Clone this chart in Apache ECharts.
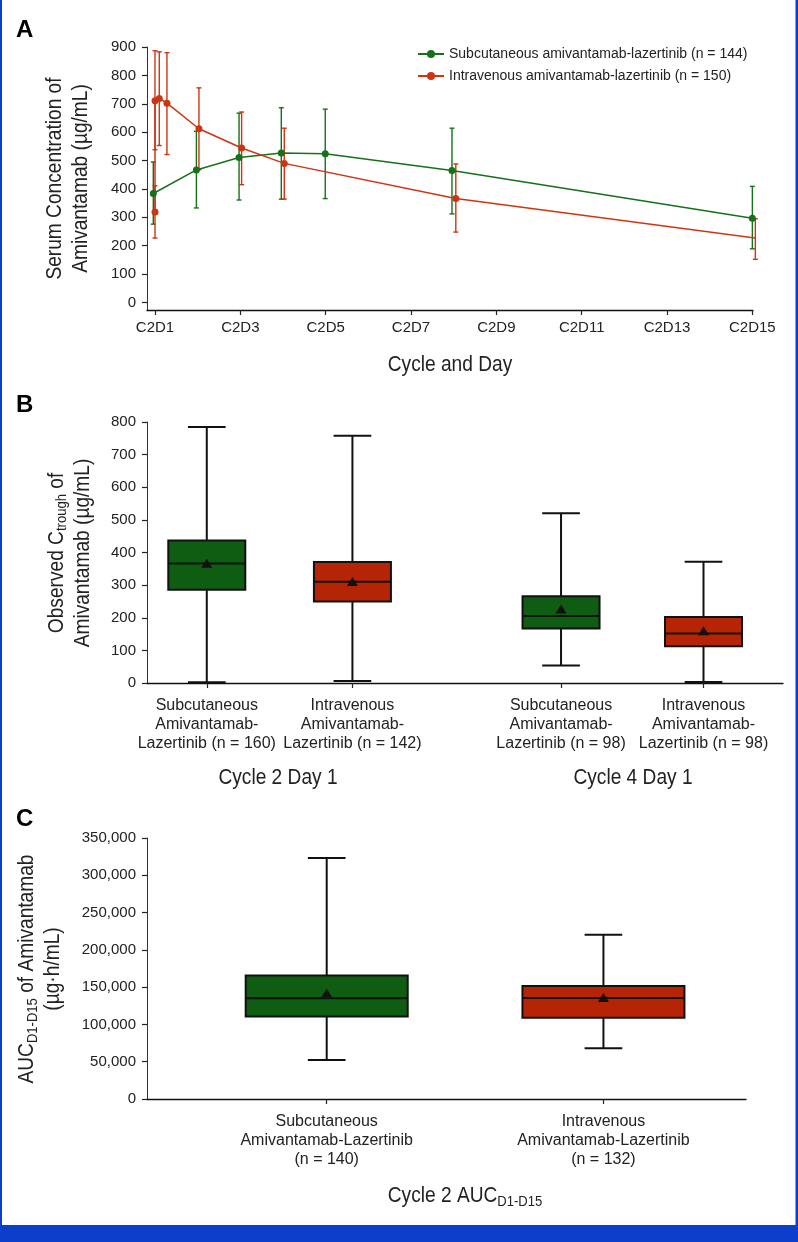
<!DOCTYPE html>
<html><head><meta charset="utf-8">
<script src="https://cdn.jsdelivr.net/npm/echarts@6/dist/echarts.min.js"></script>
<style>html,body{margin:0;padding:0;background:#fff}#c{width:798px;height:1242px}</style>
</head><body><div id="c"></div>
<script>
// ---------- Panel A data ----------
const dayTicks = [1, 3, 5, 7, 9, 11, 13, 15];
const concTicks = [0, 100, 200, 300, 400, 500, 600, 700, 800, 900];
const scName = 'Subcutaneous amivantamab-lazertinib (n = 144)';
const ivName = 'Intravenous amivantamab-lazertinib (n = 150)';
const scDays = [0.96, 1.97, 2.97, 3.96, 4.99, 7.96, 15.0];
const scMean = [384, 467, 511, 527, 524, 465, 297];
const scLow  = [276, 333, 361, 364, 366, 312, 189];
const scHigh = [495, 603, 667, 686, 681, 614, 409];
const ivDays = [1.0, 1.0, 1.1, 1.28, 2.03, 3.03, 4.03, 8.05, 15.07];
const ivMean = [319, 711, 719, 702, 612, 544, 490, 366, 227];
const ivLow  = [227, 538, 553, 521, 468, 415, 364, 248, 152];
const ivHigh = [411, 887, 883, 880, 756, 671, 614, 488, 295];

// ---------- Panel B data ----------
const troughGroups = ['Cycle 2 Day 1', 'Cycle 4 Day 1'];
const troughLabels = [
  'Subcutaneous\nAmivantamab-\nLazertinib (n = 160)',
  'Intravenous\nAmivantamab-\nLazertinib (n = 142)',
  'Subcutaneous\nAmivantamab-\nLazertinib (n = 98)',
  'Intravenous\nAmivantamab-\nLazertinib (n = 98)'
];
const troughArm    = [0, 1, 0, 1]; // 0 = subcutaneous, 1 = intravenous
const troughMin    = [2, 6, 54, 3];
const troughQ1     = [286, 250, 167, 113];
const troughMedian = [366, 310, 205, 152];
const troughQ3     = [437, 371, 266, 202];
const troughMax    = [785, 758, 520, 372];
const troughMean   = [367, 311, 227, 160];

// ---------- Panel C data ----------
const aucLabels = [
  'Subcutaneous\nAmivantamab-Lazertinib\n(n = 140)',
  'Intravenous\nAmivantamab-Lazertinib\n(n = 132)'
];
const aucArm    = [0, 1];
const aucMin    = [52400, 68000];
const aucQ1     = [110500, 108800];
const aucMedian = [135200, 135600];
const aucQ3     = [165500, 151700];
const aucMax    = [323200, 220200];
const aucMean   = [142000, 136000];

// ---------- Layout / style ----------
const GREEN = '#16711a', RED = '#cc3513';
const BOX_FILL = ['#0f5c13', '#b52404'];
const FONT = "'Liberation Sans', Arial, sans-serif";
const TXT = '#222';
const COND = 0.87;                        // horizontal squeeze for condensed titles
const slotsB = [9.4, 32.3, 65.1, 87.5];   // box slots on 0-100 layout axis
const slotsC = [30.0, 76.2];

function labelFor(slots, labels) {
  return function (v) {
    for (let i = 0; i < slots.length; i++) if (Math.abs(slots[i] - v) < 1e-6) return labels[i];
    return '';
  };
}

function boxRender(boxW, capW) {
  return function (params, api) {
    const x = api.value(0);
    const pMin = api.coord([x, api.value(1)]);
    const pQ1 = api.coord([x, api.value(2)]);
    const pMed = api.coord([x, api.value(3)]);
    const pQ3 = api.coord([x, api.value(4)]);
    const pMax = api.coord([x, api.value(5)]);
    const pMean = api.coord([x, api.value(6)]);
    const cx = pMin[0];
    const fill = BOX_FILL[api.value(7)];
    const ls = { stroke: '#111', lineWidth: 2 };
    const m = pMean[1];
    return {
      type: 'group', children: [
        { type: 'line', shape: { x1: cx, y1: pMax[1], x2: cx, y2: pMin[1] }, style: ls },
        { type: 'line', shape: { x1: cx - capW / 2, y1: pMax[1], x2: cx + capW / 2, y2: pMax[1] }, style: ls },
        { type: 'line', shape: { x1: cx - capW / 2, y1: pMin[1], x2: cx + capW / 2, y2: pMin[1] }, style: ls },
        { type: 'rect', shape: { x: cx - boxW / 2, y: pQ3[1], width: boxW, height: pQ1[1] - pQ3[1] }, style: { fill: fill, stroke: '#111', lineWidth: 2 } },
        { type: 'line', shape: { x1: cx - boxW / 2, y1: pMed[1], x2: cx + boxW / 2, y2: pMed[1] }, style: ls },
        { type: 'polygon', shape: { points: [[cx, m - 4.5], [cx - 5.5, m + 4.5], [cx + 5.5, m + 4.5]] }, style: { fill: '#111' } }
      ]
    };
  };
}

function errRender(color) {
  return function (params, api) {
    const x = api.value(0);
    const lo = api.coord([x, api.value(1)]);
    const hi = api.coord([x, api.value(2)]);
    const cx = lo[0];
    const st = { stroke: color, lineWidth: 1.4 };
    return {
      type: 'group', children: [
        { type: 'line', shape: { x1: cx, y1: hi[1], x2: cx, y2: lo[1] }, style: st },
        { type: 'line', shape: { x1: cx - 2.5, y1: hi[1], x2: cx + 2.5, y2: hi[1] }, style: st },
        { type: 'line', shape: { x1: cx - 2.5, y1: lo[1], x2: cx + 2.5, y2: lo[1] }, style: st }
      ]
    };
  };
}

const scLine = scDays.map((d, i) => [d, scMean[i]]);
const ivLine = ivDays.map((d, i) => [d, ivMean[i]]);
const scErr = scDays.map((d, i) => [d, scLow[i], scHigh[i]]);
const ivErr = ivDays.map((d, i) => [d, ivLow[i], ivHigh[i]]);
const troughData = troughMin.map((v, i) => [slotsB[i], v, troughQ1[i], troughMedian[i], troughQ3[i], troughMax[i], troughMean[i], troughArm[i]]);
const aucData = aucMin.map((v, i) => [slotsC[i], v, aucQ1[i], aucMedian[i], aucQ3[i], aucMax[i], aucMean[i], aucArm[i]]);

const titleRich = {
  a: { fontFamily: FONT, fontSize: 22, lineHeight: 26, fill: TXT, color: TXT },
  s: { fontFamily: FONT, fontSize: 15, lineHeight: 10, verticalAlign: 'bottom', fill: TXT, color: TXT }
};
function title(text, cx, cy, rot) {
  return {
    type: 'text', x: cx, y: cy, rotation: rot || 0, scaleX: COND,
    style: { text: text, rich: titleRich, align: 'center', verticalAlign: 'middle', fill: TXT }
  };
}

const axisLineY = { show: true, lineStyle: { color: '#333', width: 1 } };
const axisLineX = { show: true, onZero: false, lineStyle: { color: '#111', width: 1.3 } };
const tickStyle = { show: true, length: 5, lineStyle: { color: '#222', width: 1.2 } };
const tickLabel = { color: TXT, fontSize: 15, fontFamily: FONT };

const option = {
  animation: false,
  backgroundColor: '#fff',
  textStyle: { fontFamily: FONT },
  legend: {
    data: [scName, ivName], orient: 'vertical', left: 417, top: 47, padding: 0,
    itemWidth: 26, itemHeight: 10, itemGap: 8,
    textStyle: { fontSize: 14, color: TXT, fontFamily: FONT }
  },
  grid: [
    { left: 147, top: 47, width: 606, height: 263, outerBoundsMode: 'none' },
    { left: 147, top: 422, width: 636, height: 261, outerBoundsMode: 'none' },
    { left: 147, top: 838, width: 599, height: 261, outerBoundsMode: 'none' }
  ],
  xAxis: [
    {
      gridIndex: 0, type: 'value', min: 0.8125, max: 15.015,
      axisLine: axisLineX, splitLine: { show: false },
      axisTick: Object.assign({}, tickStyle, { customValues: dayTicks }),
      axisLabel: Object.assign({}, tickLabel, { customValues: dayTicks, margin: 10, formatter: v => 'C2D' + v })
    },
    {
      gridIndex: 1, type: 'value', min: 0, max: 100,
      axisLine: axisLineX, splitLine: { show: false },
      axisTick: Object.assign({}, tickStyle, { customValues: slotsB }),
      axisLabel: Object.assign({}, tickLabel, { customValues: slotsB, margin: 13, fontSize: 16, lineHeight: 19, formatter: labelFor(slotsB, troughLabels) })
    },
    {
      gridIndex: 2, type: 'value', min: 0, max: 100,
      axisLine: axisLineX, splitLine: { show: false },
      axisTick: Object.assign({}, tickStyle, { customValues: slotsC }),
      axisLabel: Object.assign({}, tickLabel, { customValues: slotsC, margin: 13, fontSize: 16, lineHeight: 19, formatter: labelFor(slotsC, aucLabels) })
    }
  ],
  yAxis: [
    {
      gridIndex: 0, type: 'value', min: -26.5, max: 900,
      axisLine: axisLineY, splitLine: { show: false },
      axisTick: Object.assign({}, tickStyle, { customValues: concTicks }),
      axisLabel: Object.assign({}, tickLabel, { customValues: concTicks, margin: 11 })
    },
    {
      gridIndex: 1, type: 'value', min: 0, max: 800, interval: 100,
      axisLine: axisLineY, splitLine: { show: false }, axisTick: tickStyle,
      axisLabel: Object.assign({}, tickLabel, { margin: 11 })
    },
    {
      gridIndex: 2, type: 'value', min: 0, max: 350000, interval: 50000,
      axisLine: axisLineY, splitLine: { show: false }, axisTick: tickStyle,
      axisLabel: Object.assign({}, tickLabel, { margin: 11, formatter: v => v.toLocaleString('en-US') })
    }
  ],
  series: [
    {
      type: 'custom', xAxisIndex: 0, yAxisIndex: 0, data: scErr, renderItem: errRender(GREEN),
      encode: { x: 0, y: [1, 2] }, z: 1, silent: true
    },
    {
      type: 'custom', xAxisIndex: 0, yAxisIndex: 0, data: ivErr, renderItem: errRender(RED),
      encode: { x: 0, y: [1, 2] }, z: 1, silent: true
    },
    {
      name: scName, type: 'line', xAxisIndex: 0, yAxisIndex: 0, data: scLine,
      symbol: 'circle', symbolSize: 7, color: GREEN,
      lineStyle: { color: GREEN, width: 1.5 }, itemStyle: { color: GREEN }, z: 3
    },
    {
      name: ivName, type: 'line', xAxisIndex: 0, yAxisIndex: 0, data: ivLine,
      symbol: 'circle', symbolSize: 7, color: RED,
      lineStyle: { color: RED, width: 1.5 }, itemStyle: { color: RED }, z: 3
    },
    {
      type: 'custom', xAxisIndex: 1, yAxisIndex: 1, data: troughData, renderItem: boxRender(77, 37.7),
      encode: { x: 0, y: [1, 2, 3, 4, 5, 6] }, clip: false
    },
    {
      type: 'custom', xAxisIndex: 2, yAxisIndex: 2, data: aucData, renderItem: boxRender(162, 37.7),
      encode: { x: 0, y: [1, 2, 3, 4, 5, 6] }, clip: false
    }
  ],
  graphic: [
    { type: 'rect', shape: { x: 0, y: 0, width: 2, height: 1242 }, style: { fill: '#0d3dcb' } },
    { type: 'rect', shape: { x: 795.5, y: 0, width: 2.5, height: 1242 }, style: { fill: '#0d3dcb' } },
    { type: 'rect', shape: { x: 0, y: 1225, width: 798, height: 17 }, style: { fill: '#0d3dcb' } },
    { type: 'text', style: { text: 'A', x: 16, y: 42, font: 'bold 24px ' + FONT, fill: '#000', verticalAlign: 'bottom' } },
    { type: 'text', style: { text: 'B', x: 16, y: 417, font: 'bold 24px ' + FONT, fill: '#000', verticalAlign: 'bottom' } },
    { type: 'text', style: { text: 'C', x: 16, y: 831, font: 'bold 24px ' + FONT, fill: '#000', verticalAlign: 'bottom' } },
    title('{a|Serum Concentration of}\n{a|Amivantamab (µg/mL)}', 67.5, 178.5, Math.PI / 2),
    title('{a|Cycle and Day}', 450, 365),
    title('{a|Observed C}{s|trough}{a| of}\n{a|Amivantamab (µg/mL)}', 69.5, 553, Math.PI / 2),
    title('{a|' + troughGroups[0] + '}', 278, 778),
    title('{a|' + troughGroups[1] + '}', 633, 778),
    title('{a|AUC}{s|D1-D15}{a| of Amivantamab}\n{a|(µg·h/mL)}', 40, 969, Math.PI / 2),
    title('{a|Cycle 2 AUC}{s|D1-D15}', 465, 1196)
  ]
};

const chart = echarts.init(document.getElementById('c'), null, { renderer: 'canvas' });
chart.setOption(option);
</script>
</body></html>
